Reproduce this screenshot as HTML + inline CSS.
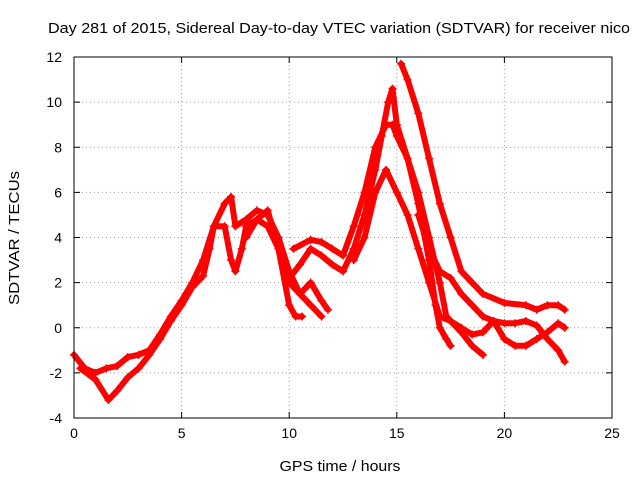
<!DOCTYPE html>
<html><head><meta charset="utf-8"><style>
body{margin:0;background:#fff;}
svg{display:block;font-family:"Liberation Sans",sans-serif;}
</style></head><body>
<svg id="chart" width="640" height="480">
<text x="339" y="33" font-size="15" text-anchor="middle" textLength="582" lengthAdjust="spacingAndGlyphs">Day 281 of 2015, Sidereal Day-to-day VTEC variation (SDTVAR) for receiver nico</text>
<text x="340" y="471" font-size="15" text-anchor="middle" textLength="121" lengthAdjust="spacingAndGlyphs">GPS time / hours</text>
<text transform="translate(19,238) rotate(-90)" font-size="15" text-anchor="middle" textLength="134" lengthAdjust="spacingAndGlyphs">SDTVAR / TECUs</text>
<g id="grid"></g>
<g id="series"></g>
<rect x="74" y="57" width="538" height="361" fill="none" stroke="#000"/>
</svg>
<script>
const xTicks=[0,5,10,15,20,25];
const yTicks=[-4,-2,0,2,4,6,8,10,12];
const track1=[[15.2,11.7],[15.5,11],[16,9.5],[16.5,7.5],[17,5.5],[17.5,4],[18,2.5],[18.5,2],[19,1.5],[20,1.1],[21,1.0],[21.5,0.8],[22,1.0],[22.5,1.0],[22.8,0.8]];
const track2=[[0,-1.2],[0.5,-1.8],[1,-2],[1.5,-1.8],[2,-1.7],[2.5,-1.3],[3,-1.2],[3.5,-1],[4,-0.3],[4.5,0.5],[5,1.2],[5.5,2],[6,3],[6.5,4.5],[7,5.5],[7.3,5.8],[7.5,4.5],[8,4.8],[8.5,5.2],[9,5.0],[9.5,4],[10,2.5],[10.5,1.5],[11,1.0],[11.5,0.5]];
const track3=[[10.2,3.5],[11,3.9],[11.5,3.8],[12,3.5],[12.5,3.2],[13,4.5],[13.5,6],[14,8],[14.5,9],[14.8,9],[15,8.5],[15.5,7.5],[16,6],[16.5,4],[17,2],[17.3,0.5],[17.5,0.3],[18,-0.2],[18.5,-0.8],[19,-1.2]];
const track4=[[0.3,-1.8],[1,-2.3],[1.6,-3.2],[2,-2.8],[2.5,-2.2],[3,-1.8],[3.5,-1.2],[4,-0.5],[4.5,0.3],[5,1],[5.5,1.8],[6,2.3],[6.3,3.5],[6.5,4.5],[7,4.5],[7.3,3],[7.5,2.5],[7.8,3.5],[8,4.5],[8.5,4.8],[9,4.5],[9.5,3.5],[10,2],[10.5,1.5],[11,2],[11.5,1.2],[11.8,0.8]];
const track5=[[10,2.2],[10.5,2.8],[11,3.5],[11.5,3.2],[12,2.8],[12.5,2.5],[13,3.5],[13.5,5],[14,7],[14.3,8.5],[14.6,10],[14.8,10.6],[15,9],[15.5,7.5],[16,5.5],[16.5,3],[16.8,1],[17,0],[17.3,-0.5],[17.5,-0.8]];
const track6=[[13,3],[13.5,4],[14,6],[14.5,7],[15,6],[15.5,5],[16,3.5],[16.5,2],[17,0.5],[17.5,0.3],[18,0],[18.5,-0.3],[19,-0.2],[19.5,0.3],[20,0.2],[20.5,0.2],[21,0.3],[21.5,0.1],[22,-0.5],[22.5,-1],[22.8,-1.5]];
const track7=[[16,5],[16.5,3.5],[17,2.5],[17.5,2.2],[18,1.5],[18.5,1],[19,0.5],[19.5,0.3],[20,-0.5],[20.5,-0.8],[21,-0.8],[21.5,-0.5],[22,-0.2],[22.5,0.2],[22.8,0]];
const track8=[[8,4],[8.5,4.8],[9,5.2],[9.5,3.5],[10,1],[10.3,0.5],[10.6,0.5]];
const tracks=[track1,track2,track3,track4,track5,track6,track7,track8];
const X0=74,X1=612,Y0=418,Y1=57;
const sx=t=>X0+(t-0)/(25-0)*(X1-X0);
const sy=v=>Y0-(v+4)/16*(Y0-Y1);
const NS="http://www.w3.org/2000/svg";
const svg=document.getElementById('chart');
const grid=document.getElementById('grid');
const ser=document.getElementById('series');
function mk(tag,attrs,parent){const e=document.createElementNS(NS,tag);for(const k in attrs)e.setAttribute(k,attrs[k]);parent.appendChild(e);return e;}
xTicks.forEach(t=>{
  const x=sx(t);
  if(t>0&&t<25){const g=mk('line',{x1:x,x2:x,y1:Y0,y2:Y1,stroke:'#a0a0a0','stroke-dasharray':'1,3'},grid);
  
  }
  mk('line',{x1:x,x2:x,y1:Y0,y2:Y0-6,stroke:'#000'},grid);
  mk('line',{x1:x,x2:x,y1:Y1,y2:Y1+6,stroke:'#000'},grid);
  const l=mk('text',{x:x,y:Y0+20,'font-size':14,'text-anchor':'middle'},svg);
  l.textContent=t;
  
  
});
yTicks.forEach(v=>{
  const y=sy(v);
  if(v>-4&&v<12){const g=mk('line',{x1:X0,x2:X1,y1:y,y2:y,stroke:'#a0a0a0','stroke-dasharray':'1,3'},grid);
  
  }
  mk('line',{x1:X0,x2:X0+6,y1:y,y2:y,stroke:'#000'},grid);
  mk('line',{x1:X1,x2:X1-6,y1:y,y2:y,stroke:'#000'},grid);
  const l=mk('text',{x:X0-12,y:y+5,'font-size':14,'text-anchor':'end'},svg);
  l.textContent=v;
  
  
});
tracks.forEach((tr,i)=>{
  const p=mk('polyline',{points:tr.map(d=>sx(d[0])+','+sy(d[1])).join(' '),fill:'none',stroke:'#ff0000','stroke-width':6,'stroke-linejoin':'round','stroke-linecap':'round'},ser);
  
  
  tr.forEach(d=>{
    const x=sx(d[0]),y=sy(d[1]);
    const m=mk('path',{d:`M${x-4},${y}H${x+4}M${x},${y-4}V${y+4}`,stroke:'#ff0000','stroke-width':1.5},ser);
    
    
  });
});
</script>
</body></html>
